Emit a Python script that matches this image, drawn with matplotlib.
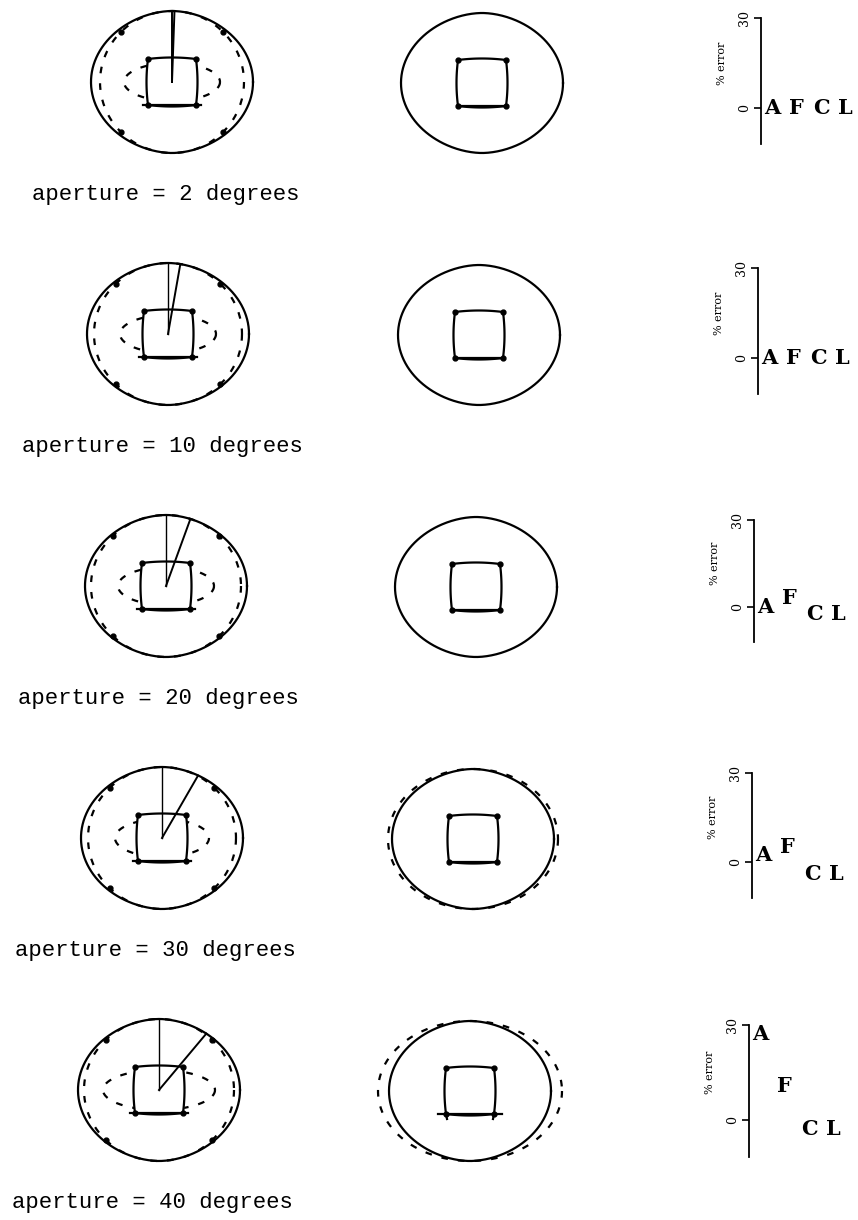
import numpy as np
import matplotlib.pyplot as plt

# aperture of the probe (degrees) for each row
apertures = [2, 10, 20, 30, 40]
methods = ['A', 'F', 'C', 'L']
# percent error of each method, one list per aperture
pct_error = [
    [0, 0, 0, 0],
    [0, 0, 0, 0],
    [0, 3, -2.5, -2.5],
    [2.5, 5, -4, -4],
    [27, 10.5, -3, -3],
]
# how far the dashed outline sits inside (left) / outside (middle) the solid one
left_dash_shrink = [9, 7, 6, 7, 6]
mid_dash_grow = [0, 0, 0, 4, 11]
# dashed inner ellipse half axes
inner_rx = [48, 48, 48, 47, 56]
inner_ry = [19, 19, 19, 19, 20]

# page layout (pixels)
W, H = 858, 1220
row_y = [82, 334, 586, 838, 1090]
left_x = [172, 168, 166, 162, 159]
mid_x = [482, 479, 476, 473, 470]
label_x = [32, 22, 18, 15, 12]
err_x = [761, 758, 754, 752, 749]
err_top = [18, 268, 520, 773, 1025]
err_ppu = [3.0, 3.0, 2.9, 2.97, 3.15]

RX, RY = 81, 71
LW = 1.6
DASH = (3, 4.5)


def lemon(cx, cy, a, b, q=1.08, n=600):
    t = np.linspace(0, 2 * np.pi, n)
    c, s = np.cos(t), np.sin(t)
    return cx + a * np.sign(c) * np.abs(c) ** q, cy + b * s


def ray_end(xs, ys, cx, cy, ang):
    # point of the outline hit by a ray at ang degrees from vertical
    phi = np.degrees(np.arctan2(xs - cx, -(ys - cy)))
    k = np.argmin(np.abs(phi - ang))
    r = np.hypot(xs[k] - cx, ys[k] - cy)
    a = np.radians(ang)
    return cx + r * np.sin(a), cy - r * np.cos(a)


def square(ax, cx, cy, w=24, h=23, bulge=1.5, tail=5, legs=0):
    pts = [(-w, -h), (w, -h), (w, h), (-w, h)]
    s = np.linspace(0, 1, 40)
    for i in range(4):
        p0 = np.array(pts[i], float)
        p1 = np.array(pts[(i + 1) % 4], float)
        d = p1 - p0
        nrm = np.array([d[1], -d[0]]) / np.hypot(*d)
        seg = p0[None, :] + s[:, None] * d[None, :] + nrm[None, :] * bulge * 4 * s[:, None] * (1 - s[:, None])
        ax.plot(cx + seg[:, 0], cy + seg[:, 1], color='black', lw=LW, solid_capstyle='round')
    ax.plot([cx - w - tail, cx + w + tail], [cy + h, cy + h], color='black', lw=LW)
    if legs:
        ax.plot([cx - w, cx - w + 1], [cy + h, cy + h + legs], color='black', lw=LW)
        ax.plot([cx + w, cx + w - 1], [cy + h, cy + h + legs], color='black', lw=LW)
    xs = [cx + p[0] for p in pts]
    ys = [cy + p[1] for p in pts]
    ax.plot(xs, ys, 'o', color='black', ms=3.5)


fig = plt.figure(figsize=(W / 100, H / 100), dpi=100)
ax = fig.add_axes([0, 0, 1, 1])
ax.set_xlim(0, W)
ax.set_ylim(H, 0)
ax.axis('off')

t = np.linspace(0, 2 * np.pi, 400)

for i, ap in enumerate(apertures):
    cy = row_y[i]

    # left: object with probe rays
    cx = left_x[i]
    xs, ys = lemon(cx, cy, RX, RY)
    ax.plot(xs, ys, color='black', lw=LW)
    ad = RX - left_dash_shrink[i]
    ax.plot(cx + ad * np.cos(t), cy + RY * np.sin(t), color='black', lw=LW,
            dashes=DASH)
    tk = np.radians([45, 135, 225, 315])
    ax.plot(cx + ad * np.cos(tk), cy + RY * np.sin(tk), 'o', color='black', ms=3.5)
    ax.plot(cx + inner_rx[i] * np.cos(t), cy + inner_ry[i] * np.sin(t), color='black',
            lw=LW, dashes=DASH)
    ax.fill([cx - 24, cx + 24, cx + 24, cx - 24], [cy - 23, cy - 23, cy + 23, cy + 23],
            color='white', zorder=2)
    square(ax, cx, cy)
    for ang, lw in ((0, 1.4 if ap < 5 else 1.0), (ap, 1.4)):
        ex, ey = ray_end(xs, ys, cx, cy, ang)
        ax.plot([cx, ex], [cy, ey], color='black', lw=lw, zorder=3)

    # middle: reconstructed object
    mx = mid_x[i]
    xs, ys = lemon(mx, cy + 1, RX, RY - 1)
    ax.plot(xs, ys, color='black', lw=LW)
    if mid_dash_grow[i]:
        ag = RX + mid_dash_grow[i]
        ax.plot(mx + ag * np.cos(t), cy + 1 + (RY - 1) * np.sin(t), color='black',
                lw=LW, dashes=DASH)
    square(ax, mx, cy + 1, tail=8 if i == 4 else 0, legs=5 if i == 4 else 0)

    ax.text(label_x[i], cy + 118, f'aperture = {ap} degrees', fontsize=16,
            family='Liberation Mono', va='baseline', ha='left')

    # right: percent error per method
    ppu = err_ppu[i]
    hpx = 42 * ppu
    ea = fig.add_axes([err_x[i] / W, 1 - (err_top[i] + hpx) / H, 97 / W, hpx / H])
    ea.set_xlim(-0.45, 3.5)
    ea.set_ylim(-12, 30)
    for side in ('top', 'right', 'bottom'):
        ea.spines[side].set_visible(False)
    ea.spines['left'].set_linewidth(1.3)
    ea.set_xticks([])
    ea.set_yticks([0, 30])
    ea.set_yticklabels(['0', '30'], rotation=90, va='center', family='DejaVu Serif',
                       fontsize=9)
    ea.tick_params(axis='y', direction='out', length=5, width=1.2, pad=2)
    ea.patch.set_visible(False)
    ea.text(-0.40, 0.643, '% error', transform=ea.transAxes, rotation=90,
            ha='center', va='center', family='DejaVu Serif', fontsize=8)
    for j, m in enumerate(methods):
        ea.text(j, pct_error[i][j], m, ha='center', va='center', fontweight='bold',
                family='DejaVu Serif', fontsize=15)

fig.savefig('out.png', dpi=100, facecolor='white')
